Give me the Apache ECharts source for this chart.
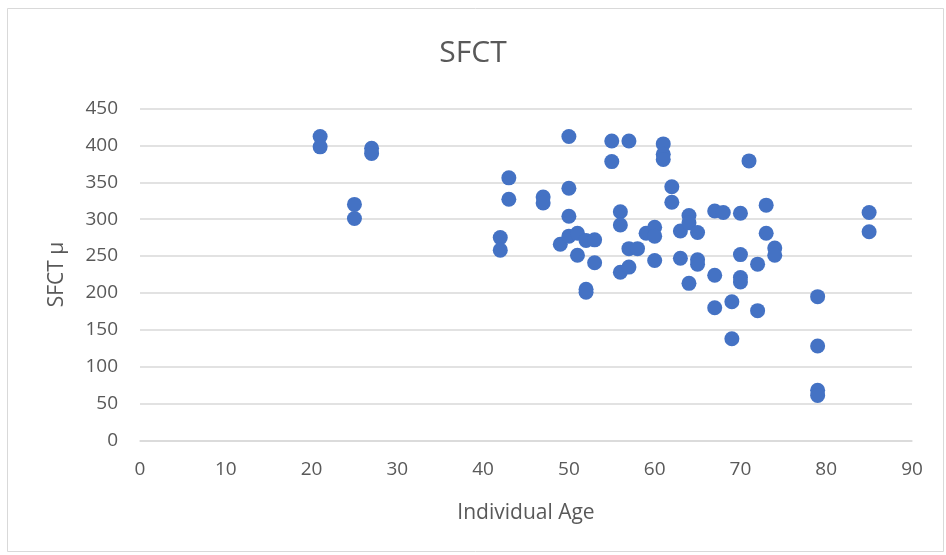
<!DOCTYPE html>
<html>
<head>
<meta charset="utf-8">
<script src="https://cdn.jsdelivr.net/npm/echarts@6/dist/echarts.min.js"></script>
<style>
  html, body { margin: 0; padding: 0; background: #fff; }
  #chart { width: 946px; height: 555px; }
</style>
</head>
<body>
<div id="chart"></div>
<script>
// Individual age (years) and sub-foveal choroidal thickness (µm)
const ages = [
  21, 21, 25, 25, 27, 27,
  42, 42, 43, 43, 47, 47, 49,
  50, 50, 50, 50, 51, 51, 52, 52, 52, 53, 53,
  55, 55, 56, 56, 56, 57, 57, 57, 58, 59,
  60, 60, 60, 61, 61, 61, 62, 62, 63, 63,
  64, 64, 64, 65, 65, 65, 67, 67, 67, 68,
  69, 69, 70, 70, 70, 70, 71, 72, 72, 73, 73,
  74, 74, 79, 79, 79, 79, 85, 85
];
const sfct = [
  412, 398, 320, 301, 396, 389,
  275, 258, 356, 327, 330, 322, 266,
  412, 342, 304, 277, 281, 251, 271, 205, 201, 272, 241,
  406, 378, 310, 292, 228, 406, 260, 235, 260, 281,
  289, 277, 244, 402, 388, 381, 344, 323, 284, 247,
  305, 295, 213, 282, 245, 239, 311, 224, 180, 309,
  188, 138, 308, 252, 221, 215, 379, 239, 176, 319, 281,
  261, 251, 195, 128, 68, 61, 309, 283
];
const xTicks = { min: 0, max: 90, step: 10 };
const yTicks = { min: 0, max: 450, step: 50 };

const points = ages.map((a, i) => [a, sfct[i]]);

const textGrey = '#595959';
const font = '"Open Sans", "Liberation Sans", sans-serif';

const chart = echarts.init(document.getElementById('chart'), null, { renderer: 'canvas' });
chart.setOption({
  animation: false,
  backgroundColor: '#ffffff',
  graphic: [{
    type: 'rect',
    shape: { x: 7.5, y: 8.5, width: 936, height: 543 },
    style: { fill: 'none', stroke: '#d9d9d9', lineWidth: 1 },
    silent: true
  }],
  title: {
    text: 'SFCT',
    left: 'center',
    top: 33,
    textStyle: { fontFamily: font, fontSize: 30, fontWeight: 'normal', color: textGrey }
  },
  grid: { left: 140, right: 34, top: 108.5, bottom: 114.5, containLabel: false },
  xAxis: {
    type: 'value',
    min: xTicks.min, max: xTicks.max, interval: xTicks.step,
    name: 'Individual Age',
    nameLocation: 'middle',
    nameGap: 62,
    nameTextStyle: { fontFamily: font, fontSize: 21, color: textGrey },
    axisLine: { show: true, lineStyle: { color: '#d9d9d9', width: 1.5 } },
    axisTick: { show: false },
    splitLine: { show: false },
    axisLabel: { fontFamily: font, fontSize: 19, color: textGrey, margin: 20 }
  },
  yAxis: {
    type: 'value',
    min: yTicks.min, max: yTicks.max, interval: yTicks.step,
    name: 'SFCT µ',
    nameLocation: 'middle',
    nameGap: 72,
    nameTextStyle: { fontFamily: font, fontSize: 21, color: textGrey },
    axisLine: { show: false },
    axisTick: { show: false },
    splitLine: { show: true, lineStyle: { color: '#d9d9d9', width: 1.5 } },
    axisLabel: { fontFamily: font, fontSize: 19, color: textGrey, margin: 22 }
  },
  series: [{
    type: 'scatter',
    data: points,
    symbol: 'circle',
    symbolSize: 15,
    itemStyle: { color: '#4472C4', opacity: 1 }
  }]
});
</script>
</body>
</html>
